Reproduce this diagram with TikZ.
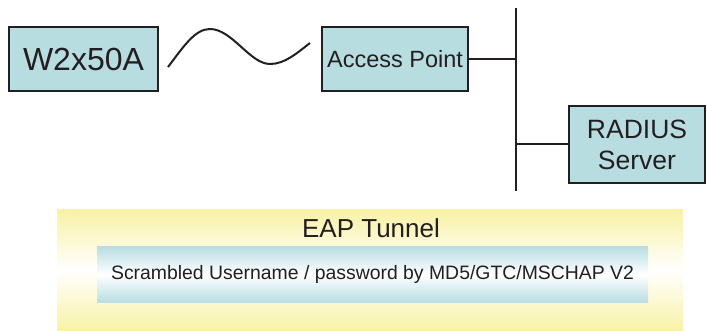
\documentclass[tikz,border=0pt]{standalone}
\usepackage{fontspec}
\setmainfont{Liberation Sans}
\usepackage{tikz}
\definecolor{devCyan}{RGB}{184, 221, 224}
\definecolor{tunnelYellow}{RGB}{248, 242, 165}
\definecolor{tunnelCyan}{RGB}{185, 222, 227}
\definecolor{inkDark}{RGB}{35, 31, 32}

\tikzset{
  devbox/.style={draw=inkDark, line width=1.3pt, fill=devCyan, inner sep=0pt,
    text=inkDark, align=center},
  wire/.style={draw=inkDark, line width=2pt},
}

\begin{document}
\begin{tikzpicture}[x=1pt, y=-1pt]
        \useasboundingbox (0,0) rectangle (707,331);
        % devices
        \node[devbox, minimum width=149pt, minimum height=64pt,
          font=\fontsize{32}{34}\selectfont] (client) at (83.5,59) {W2x50A};
        \node[devbox, minimum width=146pt, minimum height=64pt,
          font=\fontsize{23.5}{25}\selectfont] (ap) at (395,59) {Access Point};
        \node[devbox, minimum width=136pt, minimum height=77pt,
          font=\fontsize{26.5}{31}\selectfont] (radius) at (637,144.5) {RADIUS\\Server};
        % wireless link
        \coordinate (waveL) at (168,67);
        \coordinate (waveR) at (310,43);
        \draw[wire] (waveL) .. controls (184,46) and (195,29) .. (210,29)
          .. controls (232,29) and (250,64) .. (270,64)
          .. controls (285,64) and (297,53) .. (waveR);
        % wired bus
        \coordinate (busTop) at (516,8);
        \coordinate (busBot) at (516,191);
        \draw[wire, line width=2.4pt] (busTop) -- (busBot);
        \draw[wire] (ap.east) -- (ap.east -| busTop);
        \draw[wire] (radius.west) -- (radius.west -| busTop);
        % tunnel
        \node[top color=tunnelYellow, bottom color=tunnelYellow, middle color=white,
          minimum width=626pt, minimum height=121pt, inner sep=0pt] (tunnel) at (370,270.5) {};
        \node[text=inkDark, font=\fontsize{26}{28}\selectfont] (tunnelLabel) at (371,228) {EAP Tunnel};
        \node[top color=tunnelCyan, bottom color=tunnelCyan, middle color=white,
          minimum width=551pt, minimum height=55pt, inner sep=0pt, text=inkDark,
          font=\fontsize{19.4}{21}\selectfont] (scramble) at (372.5,274.5)
          {Scrambled Username / password by MD5/GTC/MSCHAP V2};
      \end{tikzpicture}
\end{document}
